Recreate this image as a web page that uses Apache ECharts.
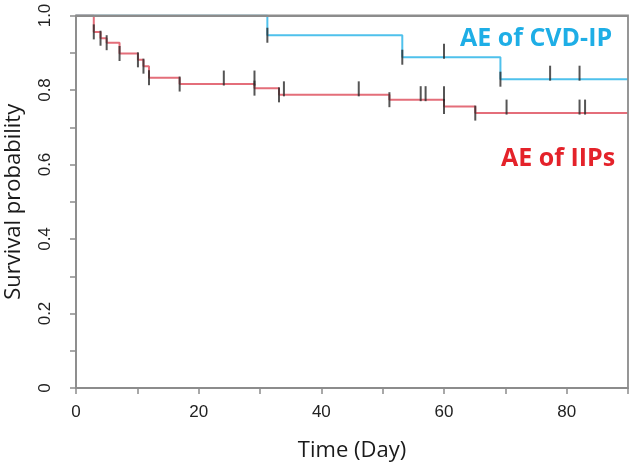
<!DOCTYPE html>
<html><head><meta charset="utf-8">
<script src="https://cdn.jsdelivr.net/npm/echarts@6/dist/echarts.min.js"></script>
<style>html,body{margin:0;padding:0;background:#fff}#c{width:630px;height:464px}</style>
</head><body><div id="c"></div>
<script>
// Tick labels
const xTickLabels = [0, 20, 40, 60, 80];
const yTickLabels = [0, 0.2, 0.4, 0.6, 0.8, 1.0];
// AE of IIPs: event times and survival after each event
const iipTimes = [0, 2.9, 4.0, 5.0, 7.1, 10.1, 11.0, 11.9, 16.9, 29.1, 33.1, 51.1, 60.0, 65.1];
const iipSurv  = [1, 0.956, 0.939, 0.927, 0.898, 0.881, 0.864, 0.833, 0.816, 0.805, 0.787, 0.774, 0.756, 0.738];
const iipCensor = [24.1, 29.1, 33.9, 46.1, 56.2, 57.0, 60.0, 70.2, 82.1, 83.0];
// AE of CVD-IP
const cvdTimes = [0, 31.2, 53.2, 69.2];
const cvdSurv  = [1, 0.947, 0.888, 0.829];
const cvdCensor = [60.0, 77.3, 82.1];
const xEnd = 90;
const yTop = 1;

function stepData(times, surv) {
  const d = times.map((t, i) => [t, surv[i]]);
  d.push([xEnd, surv[surv.length - 1]]);
  return d;
}
function eventTicks(times, surv) {
  return times.slice(1).map((t, i) => [t, surv[i + 1]]);
}
function censorTicks(censor, times, surv) {
  return censor.map(t => {
    let v = surv[0];
    for (let i = 0; i < times.length; i++) if (times[i] < t) v = surv[i];
    return [t, v];
  });
}

const tickColor = '#2b2b2b';
const axisColor = '#8c8c8c';
const labelFont = '"Liberation Sans"';

const chart = echarts.init(document.getElementById('c'), null, {renderer: 'canvas'});
chart.setOption({
  animation: false,
  backgroundColor: '#fff',
  grid: {left: 76, right: 2, top: 15.5, bottom: 76, containLabel: false, outerBoundsMode: 'none',
    show: true, z: 10, zlevel: 1, backgroundColor: 'rgba(0,0,0,0)', borderColor: axisColor, borderWidth: 1.8},
  xAxis: [{
    type: 'value', min: 0, max: xEnd, interval: 10,
    name: 'Time (Day)', nameLocation: 'middle', nameGap: 52,
    nameTextStyle: {fontFamily: '"Open Sans"', fontSize: 22, color: '#1a1a1a'},
    axisLine: {show: true, onZero: false, lineStyle: {color: axisColor, width: 1.5}},
    axisTick: {show: true, length: 6, lineStyle: {color: axisColor, width: 1.5}},
    axisLabel: {margin: 16, fontFamily: labelFont, fontSize: 17, color: '#222',
      formatter: v => xTickLabels.includes(v) ? String(v) : ''},
    splitLine: {show: false}
  }],
  yAxis: [{
    type: 'value', min: 0, max: yTop, interval: 0.1,
    name: 'Survival probability', nameLocation: 'middle', nameGap: 51,
    nameTextStyle: {fontFamily: '"Open Sans"', fontSize: 22, color: '#1a1a1a'},
    axisLine: {show: true, onZero: false, lineStyle: {color: axisColor, width: 1.5}},
    axisTick: {show: true, length: 6, lineStyle: {color: axisColor, width: 1.5}},
    axisLabel: {rotate: 90, margin: 22, fontFamily: labelFont, fontSize: 17, color: '#222',
      formatter: v => {
        const m = yTickLabels.find(t => Math.abs(t - v) < 1e-6);
        return m === undefined ? '' : (m === 0 ? '0' : m.toFixed(1));
      }},
    splitLine: {show: false}
  }],
  series: [
    {type: 'line', step: 'end', data: stepData(iipTimes, iipSurv), showSymbol: false, symbol: 'none',
      lineStyle: {color: '#e46e7a', width: 2}, z: 2},
    {type: 'line', step: 'end', data: stepData(cvdTimes, cvdSurv), showSymbol: false, symbol: 'none',
      lineStyle: {color: '#4fc1ec', width: 2}, z: 2,
      markLine: {silent: true, symbol: 'none', z: 6, label: {show: false}, animation: false,
        lineStyle: {color: axisColor, type: 'solid', width: 1.8},
        data: [{yAxis: yTop}]}},
    {type: 'scatter', data: eventTicks(iipTimes, iipSurv), symbol: 'rect', symbolSize: [2, 15],
      itemStyle: {color: tickColor}, z: 4, silent: true},
    {type: 'scatter', data: censorTicks(iipCensor, iipTimes, iipSurv), symbol: 'rect', symbolSize: [2, 15],
      symbolOffset: [0, -6], itemStyle: {color: tickColor}, z: 4, silent: true},
    {type: 'scatter', data: eventTicks(cvdTimes, cvdSurv), symbol: 'rect', symbolSize: [2, 15],
      itemStyle: {color: tickColor}, z: 4, silent: true},
    {type: 'scatter', data: censorTicks(cvdCensor, cvdTimes, cvdSurv), symbol: 'rect', symbolSize: [2, 15],
      symbolOffset: [0, -6], itemStyle: {color: tickColor}, z: 4, silent: true}
  ],
  graphic: [
    {type: 'text', left: 460, top: 26, z: 20,
      style: {text: 'AE of CVD-IP', fill: '#1eaee6', font: 'bold 25px "Open Sans"'}},
    {type: 'text', left: 501, top: 146, z: 20,
      style: {text: 'AE of IIPs', fill: '#e4222a', font: 'bold 25px "Open Sans"'}}
  ]
});
</script>
</body></html>
